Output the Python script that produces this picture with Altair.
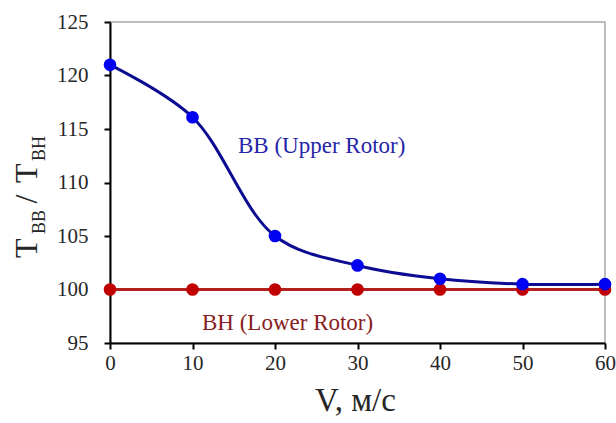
import altair as alt
import pandas as pd

# ---- data ----
V = [0, 10, 20, 30, 40, 50, 60]
upper = [121.0, 116.1, 105.0, 102.25, 101.0, 100.5, 100.5]
lower = [100.0, 100.0, 100.0, 100.0, 100.0, 100.0, 100.0]
x_ticks = [0, 10, 20, 30, 40, 50, 60]
y_ticks = [95, 100, 105, 110, 115, 120, 125]
upper_label = ["ВВ (Upper Rotor)"]
lower_label = ["ВН (Lower Rotor)"]
x_title = "V, м/с"
y_title_parts = ["T", "ВВ", "/", "T", "ВН"]

df_u = pd.DataFrame({"V": V, "T": upper})
df_l = pd.DataFrame({"V": V, "T": lower})

FONT = "'Liberation Serif', 'Times New Roman', serif"
BLUE_LINE = "#0c0c92"
BLUE_PT = "#0000f2"
RED_LINE = "#b22020"
RED_PT = "#c00000"

x_enc = alt.X(
    "V:Q",
    scale=alt.Scale(domain=[0, 60], nice=False),
    axis=alt.Axis(values=x_ticks, title=x_title, labelPadding=3, labelFlush=False,
                  titleY=67, titleBaseline="alphabetic", titleX=245,
                  titleFontSize=33, titleFont=FONT, titleFontWeight="normal",
                  titleColor="#262626"),
)
y_enc = alt.Y(
    "T:Q",
    scale=alt.Scale(domain=[95, 125], nice=False, zero=False),
    axis=alt.Axis(values=y_ticks, title=None, labelPadding=16, labelFlush=False),
)

red_line = alt.Chart(df_l).mark_line(color=RED_LINE, strokeWidth=3).encode(x=x_enc, y=y_enc)
red_pts = alt.Chart(df_l).mark_circle(color=RED_PT, size=160, opacity=1).encode(x="V:Q", y="T:Q")
blue_line = alt.Chart(df_u).mark_line(color=BLUE_LINE, strokeWidth=3,
                                      interpolate="catmull-rom").encode(x="V:Q", y="T:Q")
blue_pts = alt.Chart(df_u).mark_circle(color=BLUE_PT, size=160, opacity=1).encode(x="V:Q", y="T:Q")

up_txt = alt.Chart(pd.DataFrame({"t": upper_label})).mark_text(
    font=FONT, fontSize=23, color="#2525a8", align="left", baseline="alphabetic"
).encode(x=alt.value(128), y=alt.value(131), text="t:N")
low_txt = alt.Chart(pd.DataFrame({"t": lower_label})).mark_text(
    font=FONT, fontSize=23, color="#882020", align="left", baseline="alphabetic"
).encode(x=alt.value(92), y=alt.value(308), text="t:N")

# y-axis title built from pieces (subscripts)
yt_specs = [
    (y_title_parts[0], 32, -73, 236, "left"),
    (y_title_parts[1], 18, -65, 212, "left"),
    (y_title_parts[2], 32, -73, 177, "center"),
    (y_title_parts[3], 32, -73, 161, "left"),
    (y_title_parts[4], 18, -65, 139, "left"),
]
yt_layers = []
for txt, fs, xx, yy, al in yt_specs:
    yt_layers.append(
        alt.Chart(pd.DataFrame({"t": [txt]})).mark_text(
            font=FONT, fontSize=fs, color="#262626", angle=270,
            align=al, baseline="alphabetic"
        ).encode(x=alt.value(xx), y=alt.value(yy), text="t:N")
    )

chart = alt.layer(
    red_line, red_pts, blue_line, blue_pts, up_txt, low_txt, *yt_layers
).properties(
    width=495, height=321,
    autosize=alt.AutoSizeParams(type="none"),
    padding={"left": 110, "top": 22, "right": 11, "bottom": 80},
    background="white",
).configure_view(
    stroke="#a8a8a8", strokeWidth=1.5
).configure_axis(
    grid=False, domainColor="black", domainWidth=2,
    tickColor="black", tickWidth=2, tickSize=6,
    labelFont=FONT, labelFontSize=21, labelColor="#262626",
)

chart.save("out.html", embed_options={"renderer": "svg", "actions": False})
